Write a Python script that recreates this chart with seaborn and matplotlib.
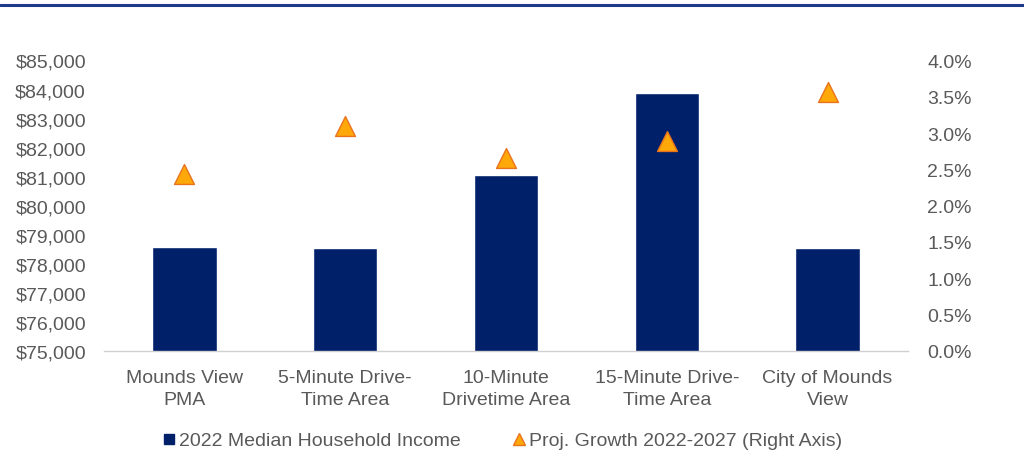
import matplotlib
matplotlib.use("Agg")
import matplotlib.pyplot as plt
from matplotlib.lines import Line2D
from matplotlib.ticker import FuncFormatter, MultipleLocator
import pandas as pd
import seaborn as sns

# Data
areas = [
    "Mounds View\nPMA",
    "5-Minute Drive-\nTime Area",
    "10-Minute\nDrivetime Area",
    "15-Minute Drive-\nTime Area",
    "City of Mounds\nView",
]
median_income = [78580, 78540, 81050, 83880, 78540]
proj_growth = [2.43, 3.10, 2.65, 2.89, 3.56]  # percent

income_label = "2022 Median Household Income"
growth_label = "Proj. Growth 2022-2027 (Right Axis)"

df = pd.DataFrame({"area": areas, "income": median_income, "growth": proj_growth})

sns.set_theme(style="white")
plt.rcParams["font.family"] = ["Liberation Sans", "DejaVu Sans"]

NAVY = "#002169"
ORANGE = "#FFA80A"
ORANGE_EDGE = "#E8731C"
TEXT = "#595959"
FS = 14

fig = plt.figure(figsize=(10.24, 4.56), dpi=100)
ax = fig.add_axes([104 / 1024, 1 - 351.7 / 456, 804 / 1024, 290.2 / 456])

sns.barplot(data=df, x="area", y="income", color=NAVY, saturation=1,
            width=0.4, ax=ax, zorder=2)
ax.set_ylim(75000, 85000)
ax.set_xlim(-0.5, len(areas) - 0.5)
ax.yaxis.set_major_locator(MultipleLocator(1000))
ax.yaxis.set_major_formatter(FuncFormatter(lambda v, p: f"${v:,.0f}"))
ax.set_xticks(range(len(areas)))
ax.set_xticklabels(areas, linespacing=1.4)
ax.set_xlabel("")
ax.set_ylabel("")

ax2 = ax.twinx()
sns.scatterplot(data=df, x="area", y="growth", marker="^", s=205,
                color=ORANGE, edgecolor=ORANGE_EDGE, linewidth=1.0,
                ax=ax2, zorder=3, legend=False)
ax2.set_ylim(0, 4.0)
ax2.yaxis.set_major_locator(MultipleLocator(0.5))
ax2.yaxis.set_major_formatter(FuncFormatter(lambda v, p: f"{v:.1f}%"))
ax2.set_ylabel("")
ax2.set_xlim(-0.5, len(areas) - 0.5)

for a in (ax, ax2):
    for side in ("top", "left", "right", "bottom"):
        a.spines[side].set_visible(False)
    a.tick_params(length=0, labelsize=FS, labelcolor=TEXT)
ax.spines["bottom"].set_visible(True)
ax.spines["bottom"].set_color("#D0D0D0")
ax.spines["bottom"].set_linewidth(1.0)
ax.tick_params(axis="y", pad=13)
ax.tick_params(axis="x", pad=13)
ax2.tick_params(axis="y", pad=14)
for lbl in ax2.get_yticklabels():
    lbl.set_horizontalalignment("left")

handles = [
    Line2D([], [], linestyle="none", marker="s", markersize=7,
           markerfacecolor=NAVY, markeredgecolor=NAVY),
    Line2D([], [], linestyle="none", marker="^", markersize=8,
           markerfacecolor=ORANGE, markeredgecolor=ORANGE_EDGE),
]
fig.legend(handles, [income_label, growth_label], loc="center",
           bbox_to_anchor=(0.49, 1 - 441.5 / 456), ncol=2, frameon=False,
           fontsize=FS, labelcolor=TEXT, handletextpad=0.1,
           columnspacing=2.6, handlelength=0.8)

# Header rule across the top
fig.add_artist(Line2D([0, 1], [1 - 6.3 / 456, 1 - 6.3 / 456],
                      transform=fig.transFigure, color="#1F3A8A", linewidth=2.2))

fig.savefig("out.png", dpi=100, facecolor="white")
